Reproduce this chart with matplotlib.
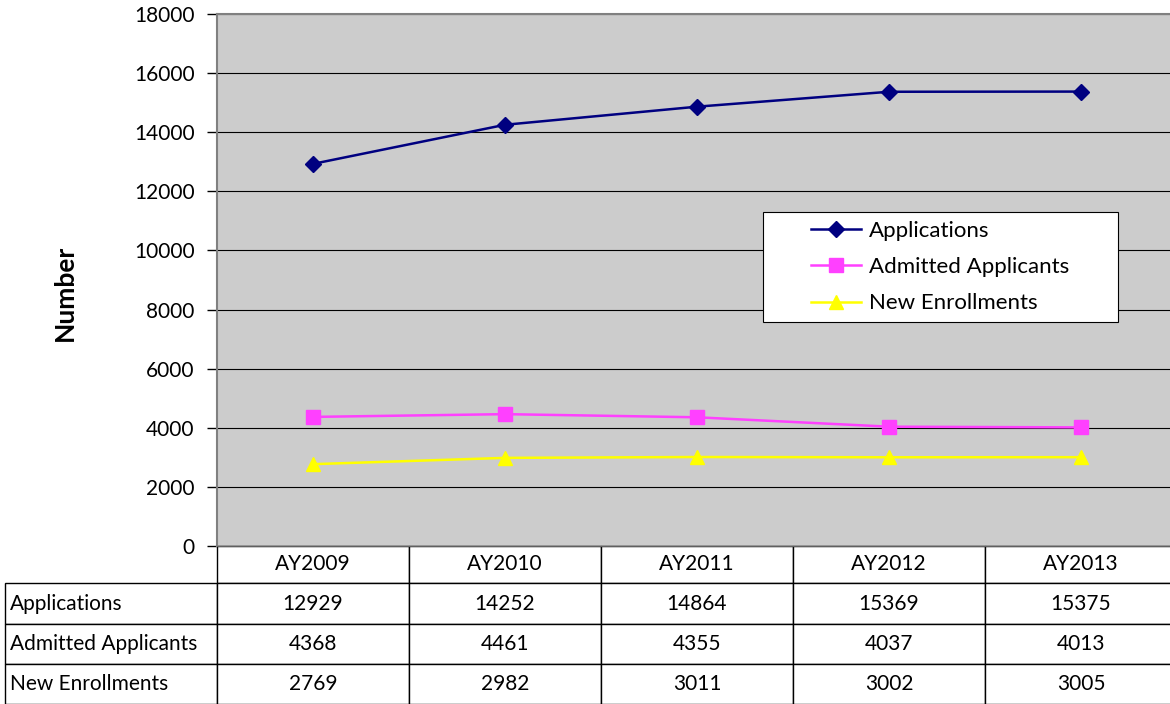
import numpy as np
import matplotlib.pyplot as plt
from matplotlib.patches import Rectangle
from matplotlib.table import Table

plt.rcParams['font.family'] = ['Lato', 'DejaVu Sans']

years = ['AY2009', 'AY2010', 'AY2011', 'AY2012', 'AY2013']
applications = [12929, 14252, 14864, 15369, 15375]
admitted = [4368, 4461, 4355, 4037, 4013]
enrollments = [2769, 2982, 3011, 3002, 3005]
series_names = ['Applications', 'Admitted Applicants', 'New Enrollments']
yticks = np.arange(0, 18001, 2000)

fig = plt.figure(figsize=(11.7, 7.04), dpi=100)
ax = fig.add_axes([217 / 1170, 158 / 704, 960 / 1170, 532 / 704])
ax.set_facecolor('#cccccc')

x = np.arange(len(years))
ax.plot(x, applications, color='#000080', lw=1.8, marker='D', ms=8.5,
        label=series_names[0], zorder=3)
ax.plot(x, admitted, color='#ff40ff', lw=1.8, marker='s', ms=10.5,
        label=series_names[1], zorder=3)
ax.plot(x, enrollments, color='#ffff00', lw=1.8, marker='^', ms=10.5,
        label=series_names[2], zorder=3)

ax.set_xlim(-0.5, len(years) - 0.5)
ax.set_ylim(0, 18000)
ax.set_yticks(yticks)
ax.set_xticks([])
ax.grid(axis='y', color='black', lw=0.8)
ax.set_axisbelow(True)
ax.tick_params(axis='y', length=7, width=1, pad=9, labelsize=15, colors='black')
for s in ['left', 'top']:
    ax.spines[s].set_color('#808080')
    ax.spines[s].set_linewidth(1.5)
ax.spines['bottom'].set_color('#606060')
ax.spines['right'].set_visible(False)
ax.set_ylabel('Number', fontsize=19, fontweight='bold')
ax.yaxis.set_label_coords(-0.146, 0.475)

# legend box
ax.add_patch(Rectangle((0.569, 0.421), 0.3695, 0.207, transform=ax.transAxes,
                       facecolor='white', edgecolor='black', lw=0.8, zorder=4))
leg = ax.legend(loc='center', bbox_to_anchor=(0.7536, 0.5244), frameon=False,
                fontsize=16, labelspacing=0.74, handlelength=2.25, handletextpad=0.36)
leg.set_zorder(5)

# data table under the plot
tbl = Table(ax, bbox=[-212 / 960, -158 / 532, 1 + 212 / 960, 158 / 532])
label_w, col_w = 212, 192
heights = [37, 41, 40, 40]
for j, yr in enumerate(years):
    tbl.add_cell(0, j + 1, width=col_w, height=heights[0], text=yr, loc='center')
for i, (name, vals) in enumerate(zip(series_names, (applications, admitted, enrollments))):
    c = tbl.add_cell(i + 1, 0, width=label_w, height=heights[i + 1], text=name, loc='left')
    c.PAD = 0.025
    for j, v in enumerate(vals):
        tbl.add_cell(i + 1, j + 1, width=col_w, height=heights[i + 1], text=str(v), loc='center')
tbl.auto_set_font_size(False)
tbl.set_fontsize(15)
for cell in tbl.get_celld().values():
    cell.set_edgecolor('black')
    cell.set_linewidth(1)
    cell.set_facecolor('white')
ax.add_table(tbl)

fig.savefig('out.png', dpi=100)
